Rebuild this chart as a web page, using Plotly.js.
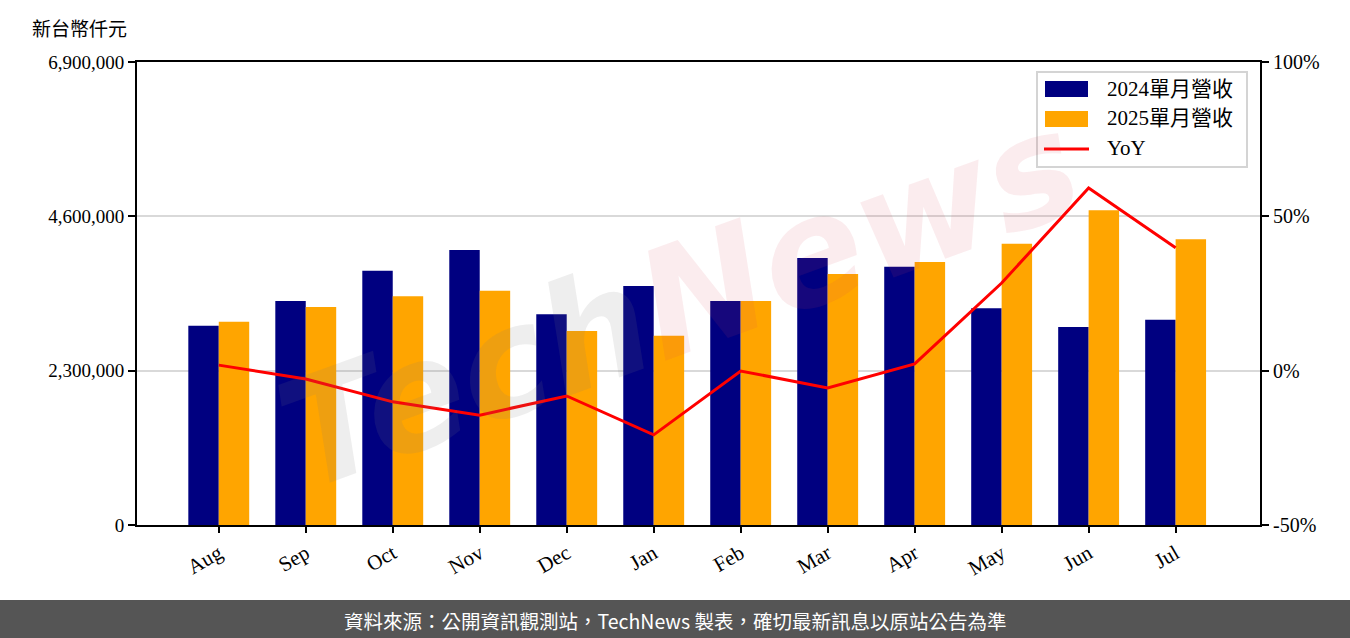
<!DOCTYPE html>
<html>
<head>
<meta charset="utf-8">
<script src="https://cdn.plot.ly/plotly-3.0.1.min.js"></script>
<style>html,body{margin:0;padding:0;background:#fff;}#chart{width:1350px;height:638px;}</style>
</head>
<body>
<div id="chart"></div>
<script>
const months = ["Aug","Sep","Oct","Nov","Dec","Jan","Feb","Mar","Apr","May","Jun","Jul"];
const rev2024 = [2970000,3340000,3790000,4100000,3140000,3560000,3340000,3980000,3850000,3230000,2950000,3060000];
const rev2025 = [3030000,3250000,3410000,3490000,2890000,2820000,3340000,3740000,3920000,4190000,4690000,4260000];
const yoy = [1.8,-2.7,-10.1,-14.4,-8.2,-20.8,-0.1,-5.6,2.2,28.4,59.2,39.8];
const leftTicks = [0,2300000,4600000,6900000];
const leftTickText = ["0","2,300,000","4,600,000","6,900,000"];
const rightTicks = [-50,0,50,100];
const rightTickText = ["-50%","0%","50%","100%"];
const seriesNames = ["2024單月營收","2025單月營收","YoY"];

const serif = '"Liberation Serif","DejaVu Serif","Noto Sans CJK TC",serif';
const cjk = '"Noto Sans CJK TC","Noto Sans",sans-serif';

const traces = [
  {type:'bar', name:seriesNames[0], x:months, y:rev2024, marker:{color:'#000080'}, yaxis:'y'},
  {type:'bar', name:seriesNames[1], x:months, y:rev2025, marker:{color:'#FFA500'}, yaxis:'y'},
  {type:'scatter', mode:'lines', name:seriesNames[2], x:months, y:yoy, line:{color:'#FF0000', width:3}, yaxis:'y2'}
];

// paper-coordinate helpers (plot area: x 137..1260, y 62..525)
const PX = p => (p - 137) / 1123;
const PY = p => (525 - p) / 463;

const layout = {
  width:1350, height:638,
  margin:{l:137, r:90, t:62, b:113},
  paper_bgcolor:'#ffffff', plot_bgcolor:'rgba(0,0,0,0)',
  barmode:'group', bargap:0.3, bargroupgap:0,
  showlegend:false,
  font:{family:serif, size:18, color:'#000'},
  xaxis:{type:'category', range:[-0.94,11.97], showline:true, linecolor:'#000', linewidth:2, mirror:true,
         ticks:'outside', ticklen:6, tickwidth:2, tickcolor:'#000', tickangle:-30, showgrid:false,
         tickfont:{family:serif, size:21}},
  yaxis:{range:[0,6900000], tickvals:leftTicks, ticktext:leftTickText, showline:true, linecolor:'#000', linewidth:2,
         ticks:'outside', ticklen:7, tickwidth:2, tickcolor:'#000', showgrid:true, gridcolor:'#d9d9d9', gridwidth:2,
         zeroline:false, tickfont:{family:serif, size:19}},
  yaxis2:{range:[-50,100], tickvals:rightTicks, ticktext:rightTickText, overlaying:'y', side:'right',
          showline:true, linecolor:'#000', linewidth:2, ticks:'outside', ticklen:7, tickwidth:2, tickcolor:'#000',
          showgrid:false, zeroline:false, tickfont:{family:serif, size:20}},
  shapes:[
    {type:'rect', xref:'paper', yref:'paper', x0:PX(0), x1:PX(1350), y0:PY(638), y1:PY(600),
     fillcolor:'#555555', line:{width:0}, layer:'below'},
    // legend box
    {type:'rect', xref:'paper', yref:'paper', x0:PX(1037), x1:PX(1247), y0:PY(167), y1:PY(72),
     fillcolor:'rgba(255,255,255,0.85)', line:{color:'#d4d4d4', width:2}, layer:'above'},
    {type:'rect', xref:'paper', yref:'paper', x0:PX(1045), x1:PX(1088), y0:PY(97), y1:PY(81),
     fillcolor:'#000080', line:{width:0}, layer:'above'},
    {type:'rect', xref:'paper', yref:'paper', x0:PX(1045), x1:PX(1088), y0:PY(127), y1:PY(111),
     fillcolor:'#FFA500', line:{width:0}, layer:'above'},
    {type:'line', xref:'paper', yref:'paper', x0:PX(1044), x1:PX(1089), y0:PY(149), y1:PY(149),
     line:{color:'#FF0000', width:3}, layer:'above'}
  ],
  annotations:[
    {text:'<i><b><span style="color:rgba(120,120,120,0.13)">Tech</span><span style="color:rgba(215,70,85,0.1)">News</span></b></i>',
     xref:'paper', yref:'paper', x:PX(680), y:PY(300), xanchor:'center', yanchor:'middle', showarrow:false,
     textangle:-20, font:{family:'"DejaVu Sans",sans-serif', size:150}},
    {text:'新台幣仟元', xref:'paper', yref:'paper', x:PX(30), y:PY(27), xanchor:'left', yanchor:'middle',
     showarrow:false, font:{family:cjk, size:19, color:'#000'}},
    {text:'資料來源：公開資訊觀測站，TechNews 製表，確切最新訊息以原站公告為準', xref:'paper', yref:'paper',
     x:PX(675), y:PY(620), xanchor:'center', yanchor:'middle', showarrow:false,
     font:{family:cjk, size:19.5, color:'#ffffff'}},
    {text:seriesNames[0], xref:'paper', yref:'paper', x:PX(1105), y:PY(89), xanchor:'left', yanchor:'middle',
     showarrow:false, font:{family:serif, size:21, color:'#000'}},
    {text:seriesNames[1], xref:'paper', yref:'paper', x:PX(1105), y:PY(118), xanchor:'left', yanchor:'middle',
     showarrow:false, font:{family:serif, size:21, color:'#000'}},
    {text:seriesNames[2], xref:'paper', yref:'paper', x:PX(1105), y:PY(148), xanchor:'left', yanchor:'middle',
     showarrow:false, font:{family:serif, size:21, color:'#000'}}
  ]
};

Plotly.newPlot('chart', traces, layout, {displayModeBar:false, staticPlot:true});
</script>
</body>
</html>
